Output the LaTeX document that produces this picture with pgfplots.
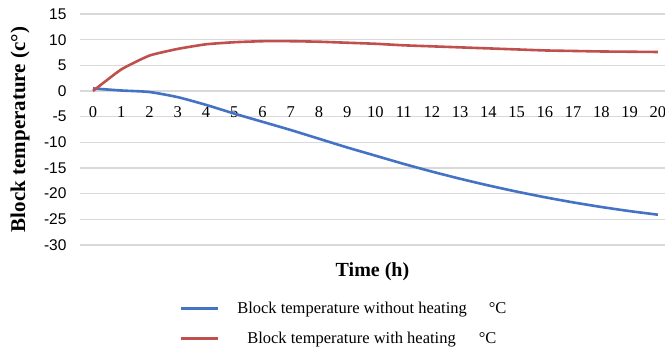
\documentclass[border=0pt]{standalone}
\usepackage{fontspec}
\setmainfont{Liberation Serif}
\newfontfamily\arial{Liberation Sans}
\usepackage{pgfplots}
\pgfplotsset{compat=1.18}
\definecolor{cblue}{RGB}{68,114,196}
\definecolor{cred}{RGB}{192,80,77}
\definecolor{cgrid}{RGB}{217,217,217}
\begin{document}
\begin{tikzpicture}
\begin{axis}[
  scale only axis,
  width=585pt, height=231pt,
  xmin=-0.46, xmax=20.25,
  ymin=-30, ymax=15,
  xtick={0,1,...,20},
  ytick={-30,-25,...,15},
  ymajorgrids,
  grid style={draw=cgrid, line width=1.2pt},
  axis line style={draw=none},
  tick style={draw=none},
  /pgf/number format/assume math mode=true,
  xticklabel style={font=\fontsize{16.5}{16}\selectfont, anchor=center, yshift=132.5pt},
  yticklabel style={font=\arial\fontsize{15.5}{15}\selectfont, anchor=east, xshift=-10pt},
  ylabel={\textbf{Block temperature (c°)}},
  ylabel style={at={(axis description cs:-0.1026,0.5)}, anchor=center, font=\fontsize{21}{22}\selectfont},
  xlabel={\textbf{Time (h)}},
  xlabel style={at={(axis description cs:0.5,-0.117)}, anchor=center, font=\fontsize{20}{21}\selectfont},
  legend style={draw=none, fill=none, at={(axis description cs:0.451,-0.236)}, anchor=north,
    font=\fontsize{16.5}{18}\selectfont, row sep=13pt, inner sep=0pt},
  legend cell align=center,
  legend image code/.code={\draw[#1, line width=3pt] (0pt,0pt) -- (37pt,0pt);},
]
\addplot[cblue, line width=2.6pt, line join=round, smooth, tension=0.4] coordinates {
(0,0.5) (1,0.1) (2,-0.2) (3,-1.2) (4,-2.7) (5,-4.4) (6,-6.0) (7,-7.6) (8,-9.3) (9,-11.0)
(10,-12.6) (11,-14.2) (12,-15.7) (13,-17.1) (14,-18.4) (15,-19.6) (16,-20.7) (17,-21.7)
(18,-22.6) (19,-23.4) (20,-24.1)};
\addlegendentry{\hspace{16pt}Block temperature without heating\hspace{22pt}°C}
\addplot[cred, line width=2.6pt, line join=round, smooth, tension=0.3] coordinates {
(0,0) (1,4.2) (2,6.9) (3,8.2) (4,9.1) (5,9.5) (6,9.7) (7,9.7) (8,9.6) (9,9.4)
(10,9.2) (11,8.9) (12,8.7) (13,8.5) (14,8.3) (15,8.1) (16,7.9) (17,7.8) (18,7.7)
(19,7.65) (20,7.6)};
\addlegendentry{\hspace{16pt}Block temperature with heating\hspace{23pt}°C}
\end{axis}
\pgfresetboundingbox
\path ([xshift=-80pt,yshift=-102pt]current axis.south west) rectangle ([yshift=14pt]current axis.north east);
\end{tikzpicture}
\end{document}
